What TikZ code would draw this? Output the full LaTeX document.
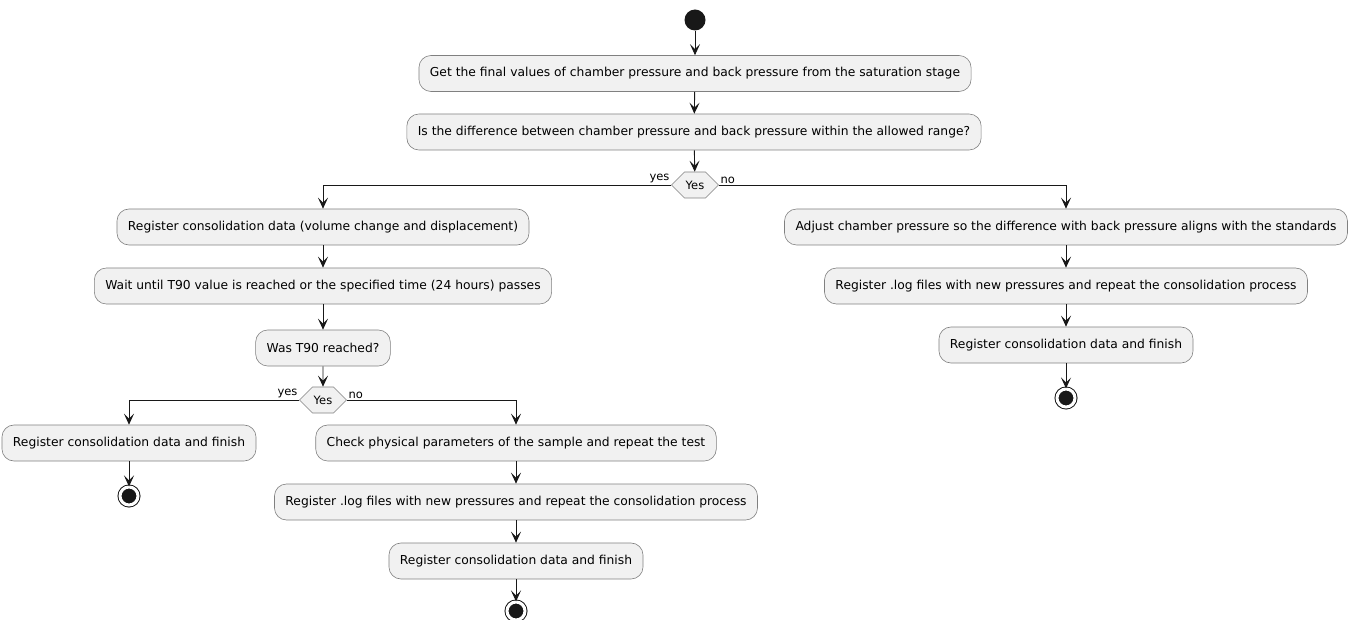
\documentclass[tikz,border=0pt]{standalone}
\usepackage{fontspec}
\setmainfont{DejaVu Sans}
\usetikzlibrary{shapes.symbols,arrows.meta}
\definecolor{boxfill}{HTML}{F1F1F1}
\definecolor{ink}{HTML}{181818}

\begin{document}
\begin{tikzpicture}[x=1pt, y=-1pt,
  act/.style={rectangle, rounded corners=12pt, draw=ink!55, fill=boxfill, line width=0.6pt, minimum height=36pt, inner xsep=11pt, font=\fontsize{12.3}{14}\selectfont},
  decision/.style={signal, signal to=east and west, signal pointer angle=90, draw=ink!55, fill=boxfill, line width=0.6pt, minimum width=47pt, minimum height=26pt, inner sep=1pt, font=\fontsize{11.5}{13}\selectfont},
  lbl/.style={inner sep=1.5pt, font=\fontsize{11.5}{13}\selectfont},
  startdot/.style={circle, fill=ink, minimum size=21pt, inner sep=0pt},
  stopdot/.style={circle, draw=ink, fill=ink, line width=1pt, double=white, double distance=3pt, minimum size=18pt, inner sep=0pt},
  flow/.style={draw=ink, line width=0.9pt, -{Stealth[length=11pt, width=10pt, inset=5pt]}}
]
  \useasboundingbox (0,0) rectangle (1354,620);
  % Start and main column
  \node[startdot] (start) at (695,20) {};
  \node[act] (get) at (695,73.5) {Get the final values of chamber pressure and back pressure from the saturation stage};
  \node[act] (check) at (694,132) {Is the difference between chamber pressure and back pressure within the allowed range?};
  \node[decision] (dec1) at (695,185) {Yes};
  % Yes branch
  \node[act] (reg) at (323,227) {Register consolidation data (volume change and displacement)};
  \node[act] (wait) at (323,286) {Wait until T90 value is reached or the specified time (24 hours) passes};
  \node[act] (was) at (323,348) {Was T90 reached?};
  \node[decision] (dec2) at (323,400) {Yes};
  \node[act] (finA) at (129,443) {Register consolidation data and finish};
  \node[stopdot] (stopA) at (129,496) {};
  \node[act] (phys) at (516,443) {Check physical parameters of the sample and repeat the test};
  \node[act] (logB) at (516,502) {Register .log files with new pressures and repeat the consolidation process};
  \node[act] (finB) at (516,561) {Register consolidation data and finish};
  \node[stopdot] (stopB) at (516,611) {};
  % No branch
  \node[act] (adj) at (1066,227) {Adjust chamber pressure so the difference with back pressure aligns with the standards};
  \node[act] (logC) at (1066,286) {Register .log files with new pressures and repeat the consolidation process};
  \node[act] (finC) at (1066,345) {Register consolidation data and finish};
  \node[stopdot] (stopC) at (1066,398) {};
  % Straight arrows
  \foreach \a/\b in {start/get, get/check, check/dec1, reg/wait, wait/was, was/dec2, finA/stopA,
                     phys/logB, logB/finB, finB/stopB, adj/logC, logC/finC, finC/stopC} {
    \draw[flow] (\a) -- (\b);
  }
  % Branches
  \draw[flow] (dec1.west) -| (reg.north);
  \draw[flow] (dec1.east) -| (adj.north);
  \draw[flow] (dec2.west) -| (finA.north);
  \draw[flow] (dec2.east) -| (phys.north);
  % Branch labels
  \node[lbl, anchor=south east] (yes1) at (dec1.west) {yes};
  \node[lbl, anchor=south west] (no1) at (dec1.east) {no};
  \node[lbl, anchor=south east] (yes2) at (dec2.west) {yes};
  \node[lbl, anchor=south west] (no2) at (dec2.east) {no};
\end{tikzpicture}
\end{document}
